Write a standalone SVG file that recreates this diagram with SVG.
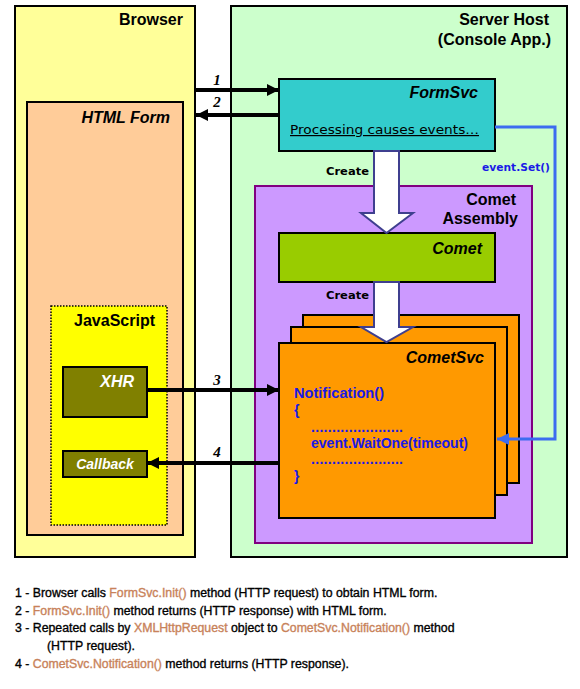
<svg xmlns="http://www.w3.org/2000/svg" width="580" height="689" viewBox="0 0 580 689">
<style>
  .box{stroke:#000;stroke-width:2}
  .t{font-family:"Liberation Sans",Arial,sans-serif;font-weight:bold;font-size:16px;fill:#000}
  .ti{font-family:"Liberation Sans",Arial,sans-serif;font-weight:bold;font-style:italic;font-size:16px;fill:#000}
  .small{font-family:"DejaVu Sans",Verdana,sans-serif;font-weight:bold;font-size:11px;fill:#000}
  .num{font-family:"Liberation Serif","Times New Roman",serif;font-weight:bold;font-style:italic;font-size:15px;fill:#000}
  .code{font-family:"Liberation Sans",Arial,sans-serif;font-weight:bold;font-size:14px;fill:#1a1ae6}
  .note{font-family:"Liberation Sans",Arial,sans-serif;font-size:12.3px;fill:#000;stroke:#000;stroke-width:0.35}
  .hl{fill:#c8825a;stroke:#c8825a}
  .conn{stroke:#000;stroke-width:4;fill:none}
  .block{fill:#fff;stroke:#3f3f8f;stroke-width:2}
</style>
<defs>
  <marker id="ah" markerUnits="userSpaceOnUse" markerWidth="12" markerHeight="12" refX="12" refY="6" orient="auto">
    <path d="M0,0 L12,6 L0,12 z" fill="#000"/>
  </marker>
  <marker id="ahb" markerUnits="userSpaceOnUse" markerWidth="12" markerHeight="12" refX="12" refY="6" orient="auto">
    <path d="M0,0 L12,6 L0,12 z" fill="#3c6cf0"/>
  </marker>
</defs>
<rect width="580" height="689" fill="#fff"/>

<g id="browser">
  <rect class="box" x="15" y="6" width="180" height="551" fill="#ffff99"/>
  <text class="t" x="183" y="25" text-anchor="end">Browser</text>
</g>
<g id="html-form">
  <rect class="box" x="27" y="102" width="156" height="433" fill="#ffcc99"/>
  <text class="ti" x="170" y="123" text-anchor="end">HTML Form</text>
</g>
<g id="javascript">
  <rect x="51" y="306" width="116" height="219" fill="#ffff00" stroke="#000" stroke-width="1.5" stroke-dasharray="1.5,1.5"/>
  <text class="t" x="155" y="326" text-anchor="end">JavaScript</text>
</g>
<g id="xhr">
  <rect class="box" x="63" y="367" width="84" height="50" fill="#808000"/>
  <text class="ti" x="134" y="387" text-anchor="end" style="fill:#fff">XHR</text>
</g>
<g id="callback">
  <rect class="box" x="63" y="451" width="84" height="26" fill="#808000"/>
  <text class="ti" x="105" y="469" text-anchor="middle" style="fill:#fff;font-size:14px">Callback</text>
</g>

<g id="server-host">
  <rect class="box" x="231" y="6" width="336" height="551" fill="#ccffcc"/>
  <text class="t" x="549" y="25" text-anchor="end">Server Host</text>
  <text class="t" x="551" y="45" text-anchor="end">(Console App.)</text>
</g>
<g id="formsvc">
  <rect class="box" x="279" y="79" width="216" height="72" fill="#33cccc"/>
  <text class="ti" x="478" y="98" text-anchor="end">FormSvc</text>
  <text x="290" y="134" font-family="'DejaVu Sans',Verdana,sans-serif" font-size="12" text-decoration="underline" textLength="189" lengthAdjust="spacingAndGlyphs" fill="#000">Processing causes events…</text>
</g>
<g id="comet-assembly">
  <rect x="255" y="186" width="277" height="357" fill="#cc99ff" stroke="#800080" stroke-width="2"/>
  <text class="t" x="516" y="205" text-anchor="end">Comet</text>
  <text class="t" x="518" y="224" text-anchor="end">Assembly</text>
</g>
<g id="comet">
  <rect class="box" x="279" y="233" width="216" height="49" fill="#99cc00"/>
  <text class="ti" x="482" y="254" text-anchor="end">Comet</text>
</g>
<g id="cometsvc">
  <rect class="box" x="303" y="315" width="216" height="168" fill="#ff9900"/>
  <rect class="box" x="291" y="327" width="216" height="168" fill="#ff9900"/>
  <rect class="box" x="279" y="343" width="216" height="175" fill="#ff9900"/>
  <text class="ti" x="484" y="363" text-anchor="end">CometSvc</text>
  <text class="code" x="294" y="398" textLength="90" lengthAdjust="spacingAndGlyphs">Notification()</text>
  <text class="code" x="294" y="415">{</text>
  <text class="code" x="311" y="432" textLength="92" lengthAdjust="spacing">......................</text>
  <text class="code" x="311" y="448" textLength="157" lengthAdjust="spacingAndGlyphs">event.WaitOne(timeout)</text>
  <text class="code" x="311" y="464" textLength="92" lengthAdjust="spacing">......................</text>
  <text class="code" x="294" y="481">}</text>
</g>

<g id="connectors">
  <polygon class="block" points="374,151 399,151 399,213 413,213 386.5,233 361,213 374,213"/>
  <text class="small" x="326" y="175" textLength="43" lengthAdjust="spacingAndGlyphs">Create</text>
  <polygon class="block" points="374,282 399,282 399,327 413,327 386.5,342 361,327 374,327"/>
  <text class="small" x="326" y="299" textLength="43" lengthAdjust="spacingAndGlyphs">Create</text>

  <line class="conn" x1="195" y1="90" x2="279" y2="90" marker-end="url(#ah)"/>
  <text class="num" x="217" y="85" text-anchor="middle">1</text>
  <line class="conn" x1="279" y1="115" x2="196" y2="115" marker-end="url(#ah)"/>
  <text class="num" x="217" y="107" text-anchor="middle">2</text>
  <line class="conn" x1="147" y1="390" x2="279" y2="390" marker-end="url(#ah)"/>
  <text class="num" x="217" y="385" text-anchor="middle">3</text>
  <line class="conn" x1="279" y1="463" x2="147" y2="463" marker-end="url(#ah)"/>
  <text class="num" x="217" y="457" text-anchor="middle">4</text>

  <polyline points="495,127 555,127 555,439 497,439" fill="none" stroke="#3c6cf0" stroke-width="3" marker-end="url(#ahb)"/>
  <text class="small" x="550" y="171" text-anchor="end" style="fill:#1a1ae6;font-size:10px" textLength="68" lengthAdjust="spacingAndGlyphs">event.Set()</text>
</g>

<g id="notes">
  <text class="note" x="15" y="597">1 - Browser calls <tspan class="hl">FormSvc.Init()</tspan> method (HTTP request) to obtain  HTML form.</text>
  <text class="note" x="15" y="615">2 - <tspan class="hl">FormSvc.Init()</tspan> method returns (HTTP response) with HTML form.</text>
  <text class="note" x="15" y="632">3 - Repeated calls by <tspan class="hl">XMLHttpRequest</tspan> object to <tspan class="hl">CometSvc.Notification()</tspan> method</text>
  <text class="note" x="47" y="650">(HTTP request).</text>
  <text class="note" x="15" y="668">4 - <tspan class="hl">CometSvc.Notification()</tspan> method returns (HTTP response).</text>
</g>
</svg>
